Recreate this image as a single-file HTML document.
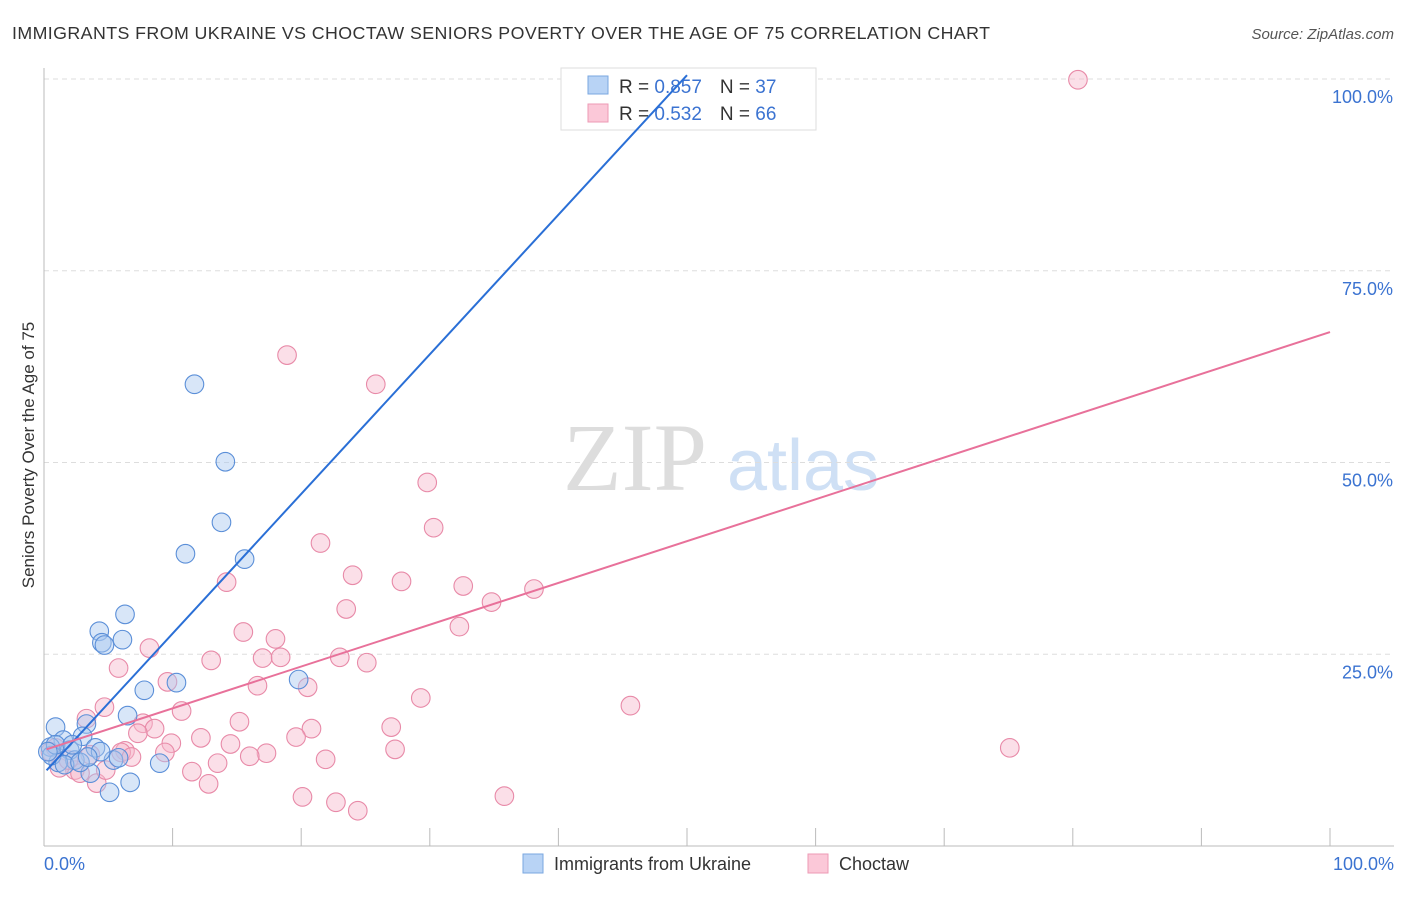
<!DOCTYPE html>
<html><head><meta charset="utf-8"><style>
body{margin:0;background:#fff;font-family:"Liberation Sans",sans-serif}
</style></head><body>
<svg id="c" width="1406" height="892" xmlns="http://www.w3.org/2000/svg">
<text x="12" y="39" font-size="17.8" fill="#333" textLength="978">IMMIGRANTS FROM UKRAINE VS CHOCTAW SENIORS POVERTY OVER THE AGE OF 75 CORRELATION CHART</text>
<text x="1394" y="39" font-size="15" fill="#555" font-style="italic" text-anchor="end">Source: ZipAtlas.com</text>
<g>
<text x="635" y="490" font-size="96" font-family="Liberation Serif,serif" fill="#ddd" text-anchor="middle">ZIP</text>
<text x="803" y="490" font-size="72" fill="#cfe0f5" text-anchor="middle">atlas</text>
</g>
<g id="grid"></g><g id="axes"></g>
<g>
<rect x="561" y="68" width="255" height="62" fill="#fff" stroke="#ddd"/>
<rect x="588" y="76" width="20" height="18" fill="#b8d3f5" stroke="#7aa7e0"/>
<rect x="588" y="104" width="20" height="18" fill="#fbc8d8" stroke="#ec9ab5"/>
<text x="619" y="93" font-size="19" fill="#333">R = <tspan fill="#3b73d1">0.857</tspan><tspan dx="18">N = </tspan><tspan fill="#3b73d1">37</tspan></text>
<text x="619" y="120" font-size="19" fill="#333">R = <tspan fill="#3b73d1">0.532</tspan><tspan dx="18">N = </tspan><tspan fill="#3b73d1">66</tspan></text>
</g>
<g id="pts"></g><g id="lines"></g>
<text transform="translate(34,455) rotate(-90)" font-size="17" fill="#333" text-anchor="middle">Seniors Poverty Over the Age of 75</text>
<g>
<rect x="523" y="854" width="20" height="19" fill="#b8d3f5" stroke="#7aa7e0"/>
<text x="554" y="870" font-size="18" fill="#333">Immigrants from Ukraine</text>
<rect x="808" y="854" width="20" height="19" fill="#fbc8d8" stroke="#ec9ab5"/>
<text x="839" y="870" font-size="18" fill="#333">Choctaw</text>
</g>
</svg>
<script>
const yTicks=[25,50,75,100];
const yTickLabels=["25.0%","50.0%","75.0%","100.0%"];
const xTicks=[0,10,20,30,40,50,60,70,80,90,100];
const blueX=[11.7,14.1,13.8,11.0,15.6,6.3,4.3,6.1,4.5,4.7,7.8,10.3,19.8,0.9,3.3,6.5,1.5,3.0,4.0,2.0,5.4,0.5,2.4,1.1,9.0,3.6,6.7,5.1,0.6,1.6,2.8,5.8,4.4,0.9,0.3,2.2,3.4];
const blueY=[60.2,50.1,42.2,38.1,37.4,30.2,28.0,26.9,26.5,26.2,20.3,21.3,21.7,15.5,15.9,17.0,13.8,14.3,12.8,12.5,11.2,12.9,11.2,10.9,10.8,9.5,8.3,7.0,11.8,10.6,10.9,11.5,12.3,13.2,12.3,13.2,11.6];
const pinkX=[80.4,18.9,25.8,29.8,30.3,21.5,24.0,14.2,27.8,32.6,38.1,34.8,23.5,32.3,15.5,18.0,8.2,13.0,17.0,18.4,23.0,25.1,5.8,9.6,16.6,20.5,29.3,45.6,4.7,10.7,15.2,7.7,3.3,8.6,20.8,27.0,7.3,12.2,19.6,9.9,14.5,75.1,27.3,6.3,9.4,17.3,16.0,6.0,13.5,21.9,6.8,11.5,12.8,4.1,20.1,22.7,24.4,35.8,2.4,1.2,2.8,4.8,1.9,0.5,0.9,3.6];
const pinkY=[99.9,64.0,60.2,47.4,41.5,39.5,35.3,34.4,34.5,33.9,33.5,31.8,30.9,28.6,27.9,27.0,25.8,24.2,24.5,24.6,24.6,23.9,23.2,21.4,20.9,20.7,19.3,18.3,18.1,17.6,16.2,16.0,16.6,15.3,15.3,15.5,14.7,14.1,14.2,13.4,13.3,12.8,12.6,12.4,12.2,12.1,11.7,12.2,10.8,11.3,11.6,9.7,8.1,8.2,6.4,5.7,4.6,6.5,9.9,10.2,9.5,9.9,11.2,12.3,12.8,11.9];
const blueFit=[9.5,1.82];
const pinkFit=[12.5,0.545];
const NS="http://www.w3.org/2000/svg";
const X=v=>44+v*12.86, Y=v=>846-v*7.67;
function mk(t,a,p){const e=document.createElementNS(NS,t);for(const k in a)e.setAttribute(k,a[k]);p.appendChild(e);return e;}
const grid=document.getElementById('grid'),axes=document.getElementById('axes'),pts=document.getElementById('pts'),lines=document.getElementById('lines');
yTicks.forEach((t,i)=>{
 const l=mk('line',{x1:44,x2:1394,y1:Y(t),y2:Y(t),stroke:'#ddd','stroke-dasharray':'5,4'},grid);
 
 
 const tx=mk('text',{x:1393,y:Y(t)+24,'font-size':18,fill:'#3b73d1','text-anchor':'end'},axes);
 tx.textContent=yTickLabels[i];
 
 
});
const ax=mk('line',{x1:44,x2:1394,y1:846,y2:846,stroke:'#bbb'},axes);


const ay=mk('line',{x1:44,x2:44,y1:68,y2:846,stroke:'#bbb'},axes);


xTicks.forEach(t=>{const l=mk('line',{x1:X(t),x2:X(t),y1:828,y2:846,stroke:'#bbb'},axes);
 
 });
[[0,'0.0%','start',44],[100,'100.0%','end',1394]].forEach(a=>{const t=mk('text',{x:a[3],y:870,'font-size':18,fill:'#3b73d1','text-anchor':a[2]},axes);t.textContent=a[1];
 
 });
function dots(xs,ys,f,s,n){xs.forEach((x,i)=>{const c=mk('circle',{cx:X(x),cy:Y(ys[i]),r:9.3,fill:f,'fill-opacity':0.45,stroke:s,'stroke-width':1.1},pts);
 
 });}
dots(pinkX,pinkY,'#f7b8cb','#e88aa8','choctaw-point');
dots(blueX,blueY,'#a9c8f0','#5b8fd8','ukraine-point');
const bx2=(100.5-blueFit[0])/blueFit[1];
const bl=mk('line',{x1:X(0.2),y1:Y(blueFit[0]+blueFit[1]*0.2),x2:X(bx2),y2:Y(blueFit[0]+blueFit[1]*bx2),stroke:'#2a6fd6','stroke-width':2},lines);


const pl=mk('line',{x1:X(0.2),y1:Y(pinkFit[0]+pinkFit[1]*0.2),x2:X(100),y2:Y(pinkFit[0]+pinkFit[1]*100),stroke:'#e8719a','stroke-width':2},lines);


</script>
</body></html>
